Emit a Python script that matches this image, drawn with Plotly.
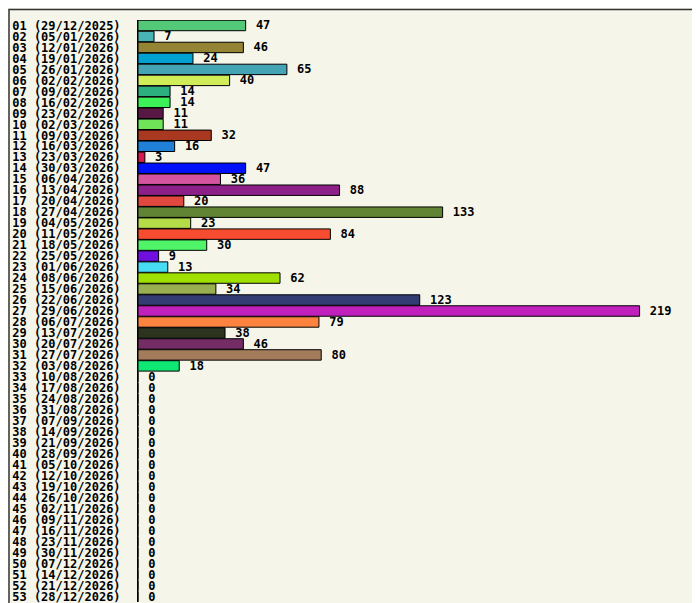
import plotly.graph_objects as go

dates = ["29/12/2025", "05/01/2026", "12/01/2026", "19/01/2026", "26/01/2026", "02/02/2026",
         "09/02/2026", "16/02/2026", "23/02/2026", "02/03/2026", "09/03/2026", "16/03/2026",
         "23/03/2026", "30/03/2026", "06/04/2026", "13/04/2026", "20/04/2026", "27/04/2026",
         "04/05/2026", "11/05/2026", "18/05/2026", "25/05/2026", "01/06/2026", "08/06/2026",
         "15/06/2026", "22/06/2026", "29/06/2026", "06/07/2026", "13/07/2026", "20/07/2026",
         "27/07/2026", "03/08/2026", "10/08/2026", "17/08/2026", "24/08/2026", "31/08/2026",
         "07/09/2026", "14/09/2026", "21/09/2026", "28/09/2026", "05/10/2026", "12/10/2026",
         "19/10/2026", "26/10/2026", "02/11/2026", "09/11/2026", "16/11/2026", "23/11/2026",
         "30/11/2026", "07/12/2026", "14/12/2026", "21/12/2026", "28/12/2026"]
labels = ["%02d (%s)" % (i + 1, d) for i, d in enumerate(dates)]
values = [47, 7, 46, 24, 65, 40, 14, 14, 11, 11, 32, 16, 3, 47, 36, 88, 20, 133, 23, 84, 30, 9,
          13, 62, 34, 123, 219, 79, 38, 46, 80, 18] + [0] * 21
colors = ["#52c878", "#48b4b4", "#948434", "#00a0d0", "#44a4b4", "#d0ec58", "#2cb080", "#3cf058",
          "#581844", "#70e458", "#a83820", "#2080d8", "#d81850", "#0010f8", "#d454a0", "#8c2088",
          "#e04840", "#608434", "#b4dc48", "#f84c30", "#50f468", "#7010e0", "#48dcf4", "#a0e000",
          "#98b050", "#343c74", "#c020bc", "#fc8440", "#2c3420", "#742c64", "#a47c5c", "#10e874"] + ["#888888"] * 21

font = dict(family="DejaVu Sans Mono", size=12, color="black")
W, H = 700, 603
ml, mr, mt, mb = 130, 10, 11.5, 8.5

fig = go.Figure(go.Bar(
    y=labels, x=values, orientation="h",
    marker=dict(color=colors, line=dict(color="black", width=1)),
    width=0.95,
    text=["\u00a0<b>%d</b>" % v for v in values], textposition="outside",
    textfont=font, cliponaxis=False,
))
pw, ph = W - ml - mr, H - mt - mb
fig.update_layout(
    width=W, height=H, margin=dict(l=ml, r=mr, t=mt, b=mb, autoexpand=False),
    paper_bgcolor="#f5f5ea", plot_bgcolor="#f5f5ea", showlegend=False,
    font=font, bargap=0.05, uniformtext=dict(minsize=12, mode="show"),
    xaxis=dict(range=[0, 244.5], visible=False, automargin=False),
    yaxis=dict(autorange="reversed", tickfont=dict(family="DejaVu Sans Mono", size=12),
               tickvals=labels, ticktext=["<b>%s</b>" % l for l in labels], automargin=False,
               showline=True, linecolor="black", linewidth=1, ticks="", ticklabelstandoff=14,
               showgrid=False),
    shapes=[dict(type="rect", xref="paper", yref="paper",
                 x0=(-ml + 1) / pw, x1=(pw + mr - 1) / pw,
                 y0=(-mb + 1) / ph, y1=(ph + mt - 1) / ph,
                 line=dict(color="#333333", width=1.5))],
)
fig.write_html("out.html")
